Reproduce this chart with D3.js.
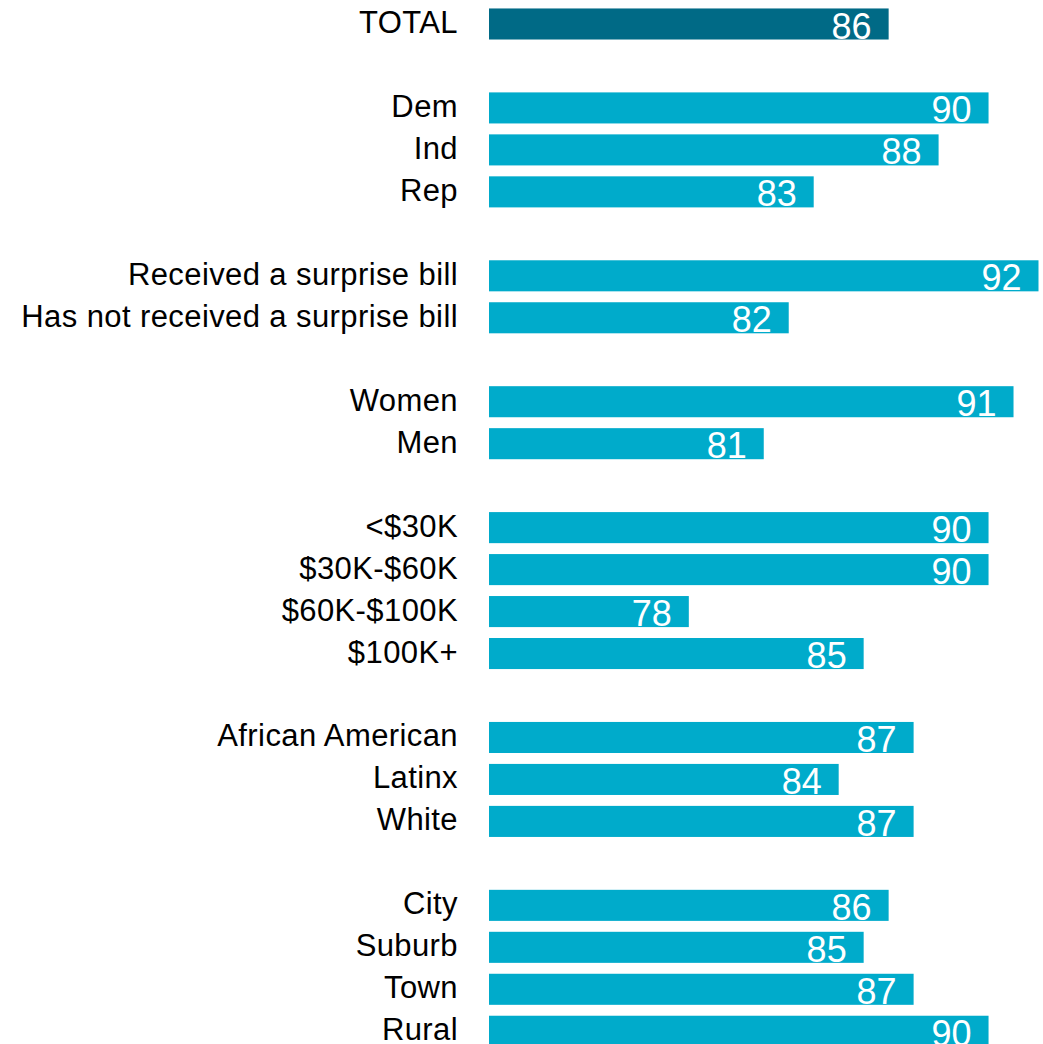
<!DOCTYPE html>
<html>
<head>
<meta charset="utf-8">
<script src="https://cdn.jsdelivr.net/npm/d3@7"></script>
<style>
  body { margin: 0; background: #fff; }
  svg { display: block; }
</style>
</head>
<body>
<div id="chart"></div>
<script>
// rows top to bottom, "" = gap between groups
var labels = ["TOTAL", "",
  "Dem", "Ind", "Rep", "",
  "Received a surprise bill", "Has not received a surprise bill", "",
  "Women", "Men", "",
  "<$30K", "$30K-$60K", "$60K-$100K", "$100K+", "",
  "African American", "Latinx", "White", "",
  "City", "Suburb", "Town", "Rural"];
var values = [86, null,
  90, 88, 83, null,
  92, 82, null,
  91, 81, null,
  90, 90, 78, 85, null,
  87, 84, 87, null,
  86, 85, 87, 90];

var width = 1043, height = 1044;

var svg = d3.select("#chart").append("svg")
  .attr("width", width)
  .attr("height", height);

var x = d3.scaleLinear()
  .domain([70, 92])
  .range([489, 1038.5]);

var y = d3.scaleBand()
  .domain(d3.range(labels.length))
  .range([3, 3 + labels.length * 41.97])
  .paddingInner(0.26)
  .paddingOuter(0.13);

var rows = labels.map(function(l, i) { return {label: l, value: values[i], i: i}; })
  .filter(function(d) { return d.value !== null; });

var g = svg.selectAll("g.row").data(rows).enter().append("g").attr("class", "row");

g.append("rect")
  .attr("x", x(70))
  .attr("y", function(d) { return y(d.i); })
  .attr("width", function(d) { return x(d.value) - x(70); })
  .attr("height", y.bandwidth())
  .attr("fill", function(d) { return d.label === "TOTAL" ? "#006a86" : "#00abcb"; });

g.append("text")
  .attr("x", 458)
  .attr("y", function(d) { return y(d.i) + y.bandwidth() / 2 + 9; })
  .attr("text-anchor", "end")
  .attr("font-family", "Liberation Sans, Arial, sans-serif")
  .attr("font-size", 31)
  .attr("letter-spacing", 0.4)
  .attr("fill", "#000")
  .text(function(d) { return d.label; });

g.append("text")
  .attr("x", function(d) { return x(d.value) - 17; })
  .attr("y", function(d) { return y(d.i) + y.bandwidth() - 1; })
  .attr("text-anchor", "end")
  .attr("font-family", "Liberation Sans, Arial, sans-serif")
  .attr("font-size", 36)
  .attr("fill", "#fff")
  .text(function(d) { return d.value; });
</script>
</body>
</html>
